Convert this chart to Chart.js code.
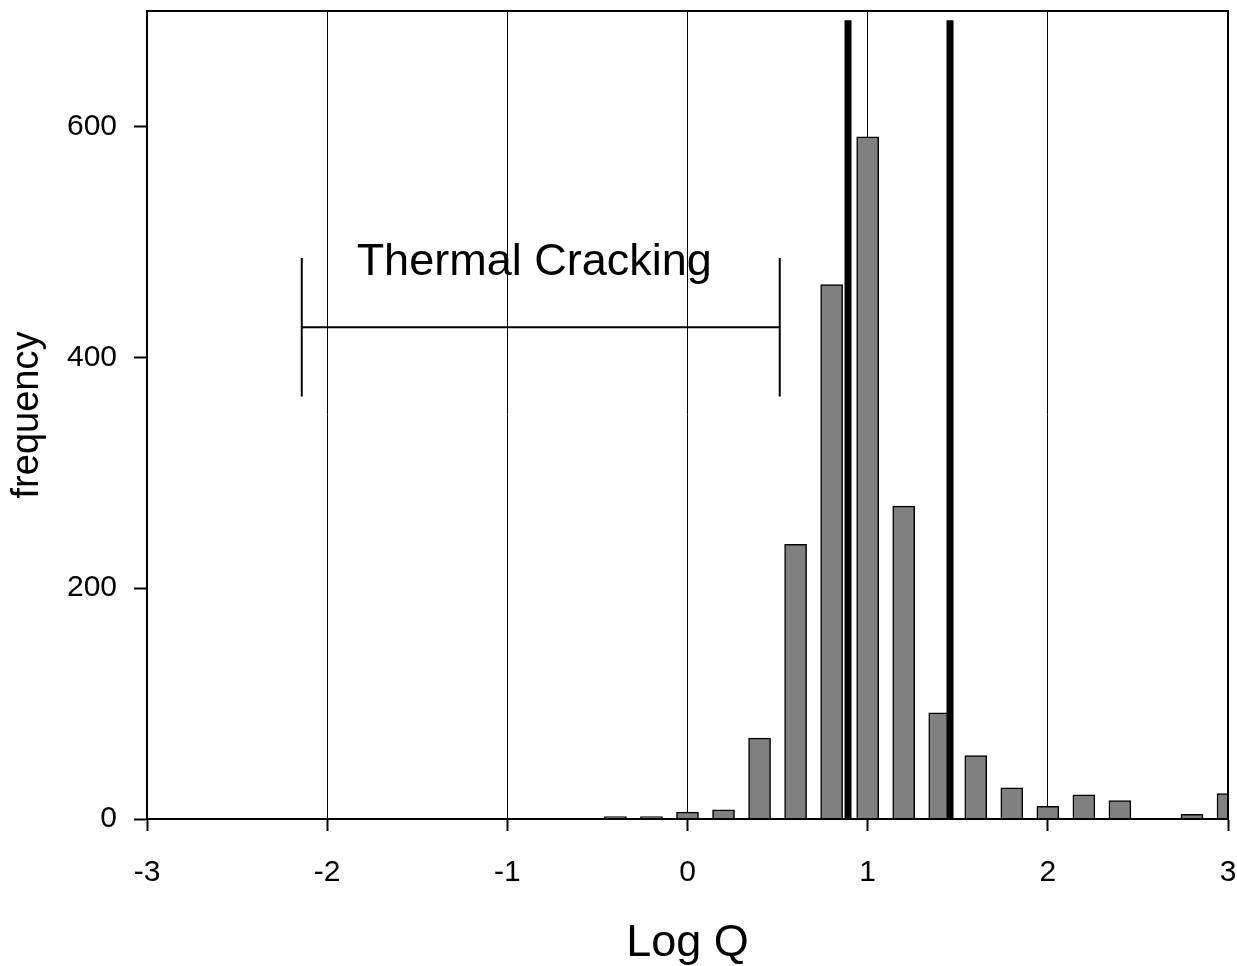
<!DOCTYPE html>
<html>
<head>
<meta charset="utf-8">
<script src="https://cdn.jsdelivr.net/npm/chart.js@4"></script>
<style>
  body { margin: 0; background: #fff; }
  #wrap { width: 1237px; height: 966px; }
</style>
</head>
<body>
<div id="wrap"><canvas id="histChart"></canvas></div>
<script>
// histogram of Log Q (bin centres) and counts
const binCentres = [-0.4, -0.2, 0, 0.2, 0.4, 0.6, 0.8, 1.0, 1.2, 1.4, 1.6, 1.8, 2.0, 2.2, 2.4, 2.6, 2.8, 3.0];
const frequencies = [2, 2, 6, 8, 70, 238, 463, 591, 271, 92, 55, 27, 11, 21, 16, 0, 4, 22];

// the two thick marker lines
const markerX = [0.891, 1.457];
const markerTop = 692;

// "Thermal Cracking" range bracket
const bracketFrom = -2.141;
const bracketTo = 0.512;
const bracketLevel = 426;
const bracketLow = 366;
const bracketHigh = 486;
const labelText = 'Thermal Cracking';
const labelX = -0.851;
const labelY = 471;

const xTicks = [-3, -2, -1, 0, 1, 2, 3];
const yTicks = [0, 200, 400, 600];

const FONT = '"Liberation Sans", Arial, sans-serif';
Chart.defaults.font.family = FONT;
Chart.defaults.color = '#000';

const histData = binCentres.map((x, i) => ({ x: x, y: frequencies[i] }));

function segment(x1, y1, x2, y2, width, order) {
    return {
        type: 'line',
        data: [{ x: x1, y: y1 }, { x: x2, y: y2 }],
        borderColor: '#000',
        borderWidth: width,
        borderCapStyle: 'butt',
        pointRadius: 0,
        fill: false,
        order: order
    };
}

const datasets = [
    {
        type: 'bar',
        data: histData,
        backgroundColor: '#808080',
        borderColor: '#000',
        borderWidth: 1.5,
        barThickness: 22,
        clip: 0,
        order: 2
    }
];
markerX.forEach(mx => datasets.push(segment(mx, 0, mx, markerTop, 7, 0)));
datasets.push(segment(bracketFrom, bracketLevel, bracketTo, bracketLevel, 2, 1));
datasets.push(segment(bracketFrom, bracketLow, bracketFrom, bracketHigh, 2, 1));
datasets.push(segment(bracketTo, bracketLow, bracketTo, bracketHigh, 2, 1));

// frame round the plot + the annotation text
const extras = {
    id: 'extras',
    afterDatasetsDraw(chart) {
        const { ctx, chartArea: a, scales: { x, y } } = chart;
        ctx.save();
        ctx.strokeStyle = '#000';
        ctx.lineWidth = 2;
        ctx.strokeRect(a.left, a.top, a.right - a.left, a.bottom - a.top);
        ctx.fillStyle = '#000';
        ctx.font = '45px ' + FONT;
        ctx.textAlign = 'center';
        ctx.textBaseline = 'alphabetic';
        ctx.fillText(labelText, x.getPixelForValue(labelX), y.getPixelForValue(labelY));
        ctx.restore();
    }
};

new Chart(document.getElementById('histChart'), {
    type: 'bar',
    data: { datasets: datasets },
    options: {
        responsive: true,
        maintainAspectRatio: false,
        animation: false,
        layout: { padding: { top: 11, right: 9, left: 0, bottom: 0 } },
        plugins: {
            legend: { display: false },
            tooltip: { enabled: false }
        },
        scales: {
            x: {
                type: 'linear',
                min: -3,
                max: 3,
                offset: false,
                afterFit: s => {
                    s.height = 147;
                    s.paddingLeft = 0;
                    s.paddingRight = 0;
                },
                afterBuildTicks: s => { s.ticks = xTicks.map(v => ({ value: v })); },
                grid: {
                    offset: false,
                    color: '#000',
                    lineWidth: 1,
                    tickLength: 12,
                    tickWidth: 2,
                    tickColor: '#000'
                },
                border: { color: '#000', width: 2 },
                ticks: {
                    font: { size: 30 },
                    padding: 24,
                    maxRotation: 0
                },
                title: {
                    display: true,
                    text: 'Log Q',
                    font: { size: 45, lineHeight: 1 },
                    padding: { top: 0, bottom: 0 }
                }
            },
            y: {
                type: 'linear',
                min: 0,
                max: 700,
                afterFit: s => {
                    s.width = 147;
                    s.paddingTop = 0;
                    s.paddingBottom = 0;
                },
                afterBuildTicks: s => { s.ticks = yTicks.map(v => ({ value: v })); },
                grid: {
                    drawOnChartArea: false,
                    tickLength: 13,
                    tickWidth: 2,
                    tickColor: '#000'
                },
                border: { color: '#000', width: 2 },
                ticks: {
                    font: { size: 30 },
                    padding: 17
                },
                title: {
                    display: true,
                    text: 'frequency',
                    font: { size: 38, lineHeight: 1.2 },
                    padding: { top: 5, bottom: 0 }
                }
            }
        }
    },
    plugins: [extras]
});
</script>
</body>
</html>
